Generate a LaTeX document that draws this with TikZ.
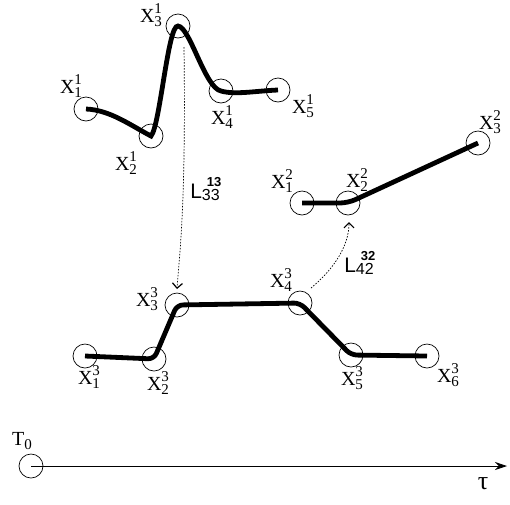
\documentclass[tikz,border=0pt]{standalone}
\usepackage{fontspec}
\setmainfont{Liberation Serif}
\setsansfont{Liberation Sans}
\usetikzlibrary{arrows.meta}
\newcommand\dig[1]{{\fontsize{15}{15}\selectfont #1}}
\newcommand\XL[2]{X\rlap{\raisebox{0.45em}{\dig{#2}}}\raisebox{-0.2em}{\dig{#1}}}
\newcommand\LL[2]{{\sffamily L\rlap{\hspace{5pt}\raisebox{11.5pt}{\fontsize{13}{13}\selectfont\bfseries #2}}\raisebox{-2pt}{\fontsize{16}{16}\selectfont #1}}}
\begin{document}
\begin{tikzpicture}[x=1pt,y=-1pt,
  pt/.style={circle,draw,line width=0.7pt,minimum size=24pt,inner sep=0pt},
  lbl/.style={inner sep=0pt,font=\fontsize{20}{20}\selectfont},
  traj/.style={line width=4.8pt},
  link/.style={dash pattern=on 1.5pt off 1.5pt,line width=0.7pt,
    -{Straight Barb[length=5pt,width=10pt,line width=1.2pt]}},
  axis/.style={line width=0.8pt,-{Stealth[length=12pt,width=8pt]}}]
\useasboundingbox (0,0) rectangle (510,504);
% series 1
\node[pt] (a11) at (86,109) {};
\node[pt] (a21) at (151,136) {};
\node[pt] (a31) at (178,26) {};
\node[pt] (a41) at (221,91) {};
\node[pt] (a51) at (278,90) {};
% series 2
\node[pt] (a12) at (302,203) {};
\node[pt] (a22) at (348,203) {};
\node[pt] (a32) at (478,143) {};
% series 3
\node[pt] (a13) at (85,356) {};
\node[pt] (a23) at (154,359) {};
\node[pt] (a33) at (177,305) {};
\node[pt] (a43) at (300,303) {};
\node[pt] (a53) at (351,355) {};
\node[pt] (a63) at (427,356) {};
% time origin
\node[pt] (t0) at (31,466) {};
% labels
\node[lbl] (l11) at (71,86) {\XL{1}{1}};
\node[lbl] (l21) at (126,163) {\XL{2}{1}};
\node[lbl] (l31) at (151,15) {\XL{3}{1}};
\node[lbl] (l41) at (222,117) {\XL{4}{1}};
\node[lbl] (l51) at (303,106) {\XL{5}{1}};
\node[lbl] (l12) at (282,181) {\XL{1}{2}};
\node[lbl] (l22) at (357,180) {\XL{2}{2}};
\node[lbl] (l32) at (490,122) {\XL{3}{2}};
\node[lbl] (l13) at (89,377) {\XL{1}{3}};
\node[lbl] (l23) at (158,383) {\XL{2}{3}};
\node[lbl] (l33) at (147,299) {\XL{3}{3}};
\node[lbl] (l43) at (281,280) {\XL{4}{3}};
\node[lbl] (l53) at (352,378) {\XL{5}{3}};
\node[lbl] (l63) at (448,375) {\XL{6}{3}};
\node[lbl] (lt0) at (22,441) {T\raisebox{-0.17em}{\dig{0}}};
\node[lbl,font=\fontsize{26}{26}\selectfont] (ltau) at (483,484) {τ};
\node[lbl,font=\fontsize{21}{21}\selectfont] (L1) at (205,189) {\LL{33}{13}};
\node[lbl,font=\fontsize{21}{21}\selectfont] (L2) at (359,263) {\LL{42}{32}};
% trajectories
\draw[traj] (a11.center) .. controls (110,110) and (130,125) .. (a21.center)
  .. controls (160,126) and (168,24) .. (a31.center)
  .. controls (190,27) and (205,88) .. (a41.center)
  .. controls (235,95) and (255,91) .. (a51.center);
\draw[traj,rounded corners=8pt] (a12.center) -- (a22.center) -- (a32.center);
\draw[traj,rounded corners=6pt] (a13.center) -- (a23.center) -- (a33.center)
  -- (a43.center) -- (a53.center) -- (a63.center);
% links
\coordinate (s1) at (184,47);
\coordinate (e1) at (177,289);
\draw[link] (s1) .. controls (186,200) and (180,250) .. (e1);
\coordinate (s2) at (311,288);
\coordinate (e2) at (349,222);
\draw[link] (s2) .. controls (335,268) and (349,245) .. (e2);
% time axis
\coordinate (tend) at (507,466);
\draw[axis] (t0.center) -- (tend);
\end{tikzpicture}
\end{document}
